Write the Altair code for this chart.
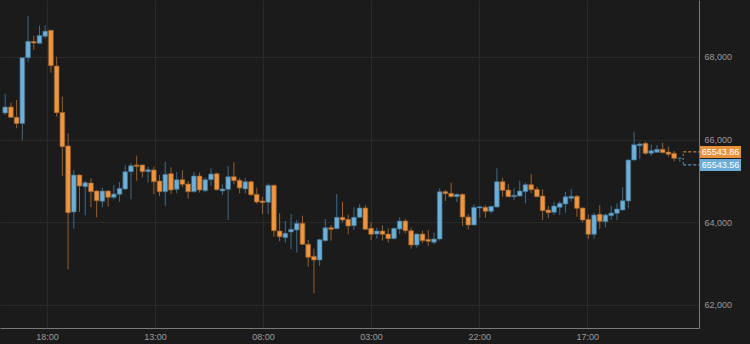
import json
import altair as alt
import pandas as pd

# ---------------- data ----------------
opens = [
    66643, 66788, 66539, 66389, 67982, 68375, 68331, 68501, 68646, 67781,
    66655, 65844, 64245, 65141, 64858, 64948, 64754, 64504, 64754, 64601,
    64674, 64802, 65221, 65384, 65384, 65221, 65263, 64996, 64737, 65173,
    64795, 65028, 64924, 64737, 65117, 64761, 65028, 65173, 64754, 64795,
    65100, 65013, 64802, 64979, 64674, 64512, 64480, 64892, 63785, 63623,
    63761, 63809, 63972, 63463, 63172, 63083, 63550, 63865, 63841, 64117,
    64068, 63913, 64117, 64342, 63851, 63712, 63785, 63712, 63599, 63834,
    64027, 63792, 63446, 63712, 63584, 63511, 63591, 64737, 64698, 64616,
    64674, 64124, 63930, 64342, 64359, 64262, 64366, 64979, 64778, 64616,
    64633, 64737, 64907, 64795, 64633, 64294, 64238, 64359, 64439, 64577,
    64626, 64342, 64068, 63705, 64190, 64010, 64156, 64214, 64294, 64512,
    65505, 65851, 65909, 65667, 65691, 65764, 65699, 65667, 65543.2,
]
highs = [
    67103, 66893, 66958, 67987, 68993, 68508, 68762, 68767, 68653, 68007,
    67038, 66151, 65263, 65166, 64996, 65062, 64778, 64834, 64771, 64899,
    64972, 65376, 65425, 65609, 65390, 65343, 65343, 65141, 65464, 65328,
    65214, 65255, 64996, 65214, 65197, 65086, 65304, 65202, 64916, 65359,
    65449, 65062, 65076, 65008, 64834, 64616, 64940, 64911, 64214, 64027,
    64197, 64052, 64156, 63567, 63356, 63599, 64076, 63930, 64681, 64488,
    64180, 64359, 64439, 64408, 64003, 63865, 63923, 63851, 63865, 64117,
    64076, 63865, 63725, 63792, 63809, 63744, 64819, 64778, 64955, 64698,
    64698, 64197, 64432, 64391, 64408, 64391, 65304, 65076, 64916, 64819,
    65003, 64955, 65166, 64858, 64795, 64391, 64495, 64512, 64737, 64802,
    64657, 64359, 64190, 64228, 64415, 64214, 64391, 64456, 64844, 65517,
    66190, 65934, 65941, 65885, 65868, 65924, 65827, 65723, 65578,
]
lows = [
    66595, 66522, 66273, 65989, 67886, 68169, 68314, 68447, 67619, 66553,
    65117, 62858, 63841, 64245, 64165, 64359, 64117, 64359, 64374, 64553,
    64495, 64778, 64553, 65003, 65086, 64955, 64674, 64633, 64391, 64681,
    64698, 64844, 64568, 64722, 64713, 64722, 64875, 64766, 64657, 64052,
    64916, 64698, 64698, 64633, 64446, 64197, 64197, 63647, 63536, 63502,
    63342, 63260, 63446, 62921, 62276, 62937, 63526, 63550, 63826, 63986,
    63705, 63809, 64100, 63809, 63567, 63599, 63550, 63502, 63584, 63705,
    63729, 63356, 63381, 63487, 63422, 63463, 63550, 64512, 64601, 64488,
    63906, 63826, 63913, 64107, 64107, 64214, 64354, 64616, 64601, 64536,
    64616, 64456, 64698, 64601, 64052, 64093, 64173, 64173, 64228, 64495,
    64131, 63986, 63591, 63599, 63834, 63875, 64052, 64052, 64282, 64335,
    65488, 65529, 65633, 65602, 65686, 65667, 65585, 65473, 65456,
]
closes = [
    66788, 66539, 66389, 67982, 68380, 68338, 68520, 68624, 67789, 66650,
    65827, 64228, 65141, 64875, 64955, 64737, 64519, 64754, 64601, 64681,
    64819, 65221, 65367, 65352, 65221, 65270, 64979, 64737, 65158, 64778,
    65028, 64916, 64737, 65117, 64778, 65028, 65166, 64785, 64802, 65100,
    65003, 64827, 64979, 64664, 64488, 64471, 64892, 63792, 63647, 63729,
    63826, 63972, 63463, 63148, 63083, 63574, 63865, 63826, 64117, 64052,
    63906, 64117, 64342, 63826, 63705, 63785, 63705, 63599, 63851, 64027,
    63792, 63446, 63712, 63550, 63536, 63591, 64737, 64689, 64616, 64674,
    64124, 63930, 64359, 64374, 64262, 64383, 64979, 64771, 64616, 64650,
    64754, 64907, 64785, 64616, 64277, 64228, 64391, 64456, 64616, 64626,
    64335, 64052, 63705, 64173, 64020, 64173, 64221, 64318, 64519, 65505,
    65875, 65892, 65667, 65730, 65764, 65682, 65643, 65543.86, 65543.56,
]

# x axis: hour index of each tick and its label
tick_hours = [7.8, 26.7, 45.6, 64.5, 83.4, 102.3]
tick_labels = ["18:00", "13:00", "08:00", "03:00", "22:00", "17:00"]
y_ticks = [62000, 64000, 66000, 68000]

# last-price markers
last_prices = [65543.86, 65543.56]
last_labels = ["65543.86", "65543.56"]
last_kinds = ["down", "up"]

# ---------------- styling ----------------
BG = "#1b1b1b"
BODY = {"up": "#6cafd9", "down": "#ee9541"}
WICK = {"up": "#416b85", "down": "#9a5f2b"}
FONT = "Liberation Sans"

n = len(opens)
df = pd.DataFrame({
    "t": [i + 0.5 for i in range(n)],
    "open": opens, "high": highs, "low": lows, "close": closes,
})
df["dir"] = ["up" if c >= o else "down" for o, c in zip(opens, closes)]

lp = pd.DataFrame({"price": last_prices, "label": last_labels, "kind": last_kinds})
lp["t"] = n + 0.1

x_dom = [0.466, 120.98]
y_dom = [61436, 69380]

xs = alt.Scale(domain=x_dom, nice=False, zero=False)
ys = alt.Scale(domain=y_dom, nice=False, zero=False)

label_expr = f"{json.dumps(tick_labels)}[indexof({json.dumps(tick_hours)}, datum.value)]"

x_enc = alt.X("t:Q", scale=xs, axis=alt.Axis(
    values=tick_hours, labelExpr=label_expr, orient="bottom", grid=True,
    ticks=False, labelPadding=4, title=None, domainColor="#7a7a7a"))

dirs = ["up", "down"]
stroke_scale = alt.Scale(domain=dirs, range=[WICK[d] for d in dirs])
fill_scale = alt.Scale(domain=dirs, range=[BODY[d] for d in dirs])

wicks = alt.Chart(df).mark_rule(strokeWidth=1, clip=True).encode(
    x=x_enc,
    y=alt.Y("low:Q", scale=ys, axis=alt.Axis(
        values=y_ticks, format=",.0f", orient="right", grid=True, ticks=False,
        labelPadding=5, title=None, domainColor="#7a7a7a")),
    y2="high:Q",
    stroke=alt.Stroke("dir:N", scale=stroke_scale, legend=None),
)

bodies = alt.Chart(df).mark_bar(size=4.7, orient="vertical", strokeWidth=0.7, clip=True).encode(
    x=alt.X("t:Q", scale=xs),
    y=alt.Y("open:Q", scale=ys),
    y2="close:Q",
    fill=alt.Fill("dir:N", scale=fill_scale, legend=None),
    stroke=alt.Stroke("dir:N", scale=stroke_scale, legend=None),
)

lp_dn = lp[lp["kind"] == "down"]
lp_up = lp[lp["kind"] == "up"]

dash_dn = alt.Chart(lp_dn).mark_rule(strokeDash=[3, 2], strokeWidth=1, yOffset=-6.5,
                                      color=BODY["down"]).encode(
    x=alt.X("t:Q", scale=xs), x2=alt.value(700), y=alt.Y("price:Q", scale=ys))
dash_up = alt.Chart(lp_up).mark_rule(strokeDash=[3, 2], strokeWidth=1, yOffset=6.5,
                                      color=BODY["up"]).encode(
    x=alt.X("t:Q", scale=xs), x2=alt.value(700), y=alt.Y("price:Q", scale=ys))
dash_v = alt.Chart(lp).mark_rule(strokeDash=[2, 2], strokeWidth=1, color="#7a8d9a").encode(
    x=alt.X("t:Q", scale=xs), y=alt.Y("min(price):Q", scale=ys), y2="max(price):Q"
).transform_calculate(
    price="datum.price + (datum.kind == 'down' ? 135 : -135)"
)

box_dn = alt.Chart(lp_dn).mark_rect(yOffset=-12.5, y2Offset=-0.5, color="#e8913d").encode(
    x=alt.value(700), x2=alt.value(741), y=alt.Y("price:Q", scale=ys), y2="price:Q")
box_up = alt.Chart(lp_up).mark_rect(yOffset=0.5, y2Offset=12.5, color="#6aaed8").encode(
    x=alt.value(700), x2=alt.value(741), y=alt.Y("price:Q", scale=ys), y2="price:Q")

txt_dn = alt.Chart(lp_dn).mark_text(yOffset=-6.5, align="center", baseline="middle",
                                     font=FONT, fontSize=9, color="#ffffff").encode(
    x=alt.value(720.5), y=alt.Y("price:Q", scale=ys), text="label:N")
txt_up = alt.Chart(lp_up).mark_text(yOffset=6.5, align="center", baseline="middle",
                                     font=FONT, fontSize=9, color="#ffffff").encode(
    x=alt.value(720.5), y=alt.Y("price:Q", scale=ys), text="label:N")

chart = alt.layer(
    wicks, bodies, dash_dn, dash_up, dash_v, box_dn, box_up, txt_dn, txt_up
).properties(
    width=699, height=328,
    autosize=alt.AutoSizeParams(type="none"),
    padding={"left": 0, "top": 0, "right": 51, "bottom": 16},
    background=BG,
).configure_view(
    stroke=None, fill=BG,
).configure_axis(
    gridColor="#292929", gridWidth=1, labelColor="#9c9c9c", labelFont=FONT,
    labelFontSize=9, domainWidth=1,
)

chart.save("out.html", embed_options={"renderer": "svg", "actions": False})
